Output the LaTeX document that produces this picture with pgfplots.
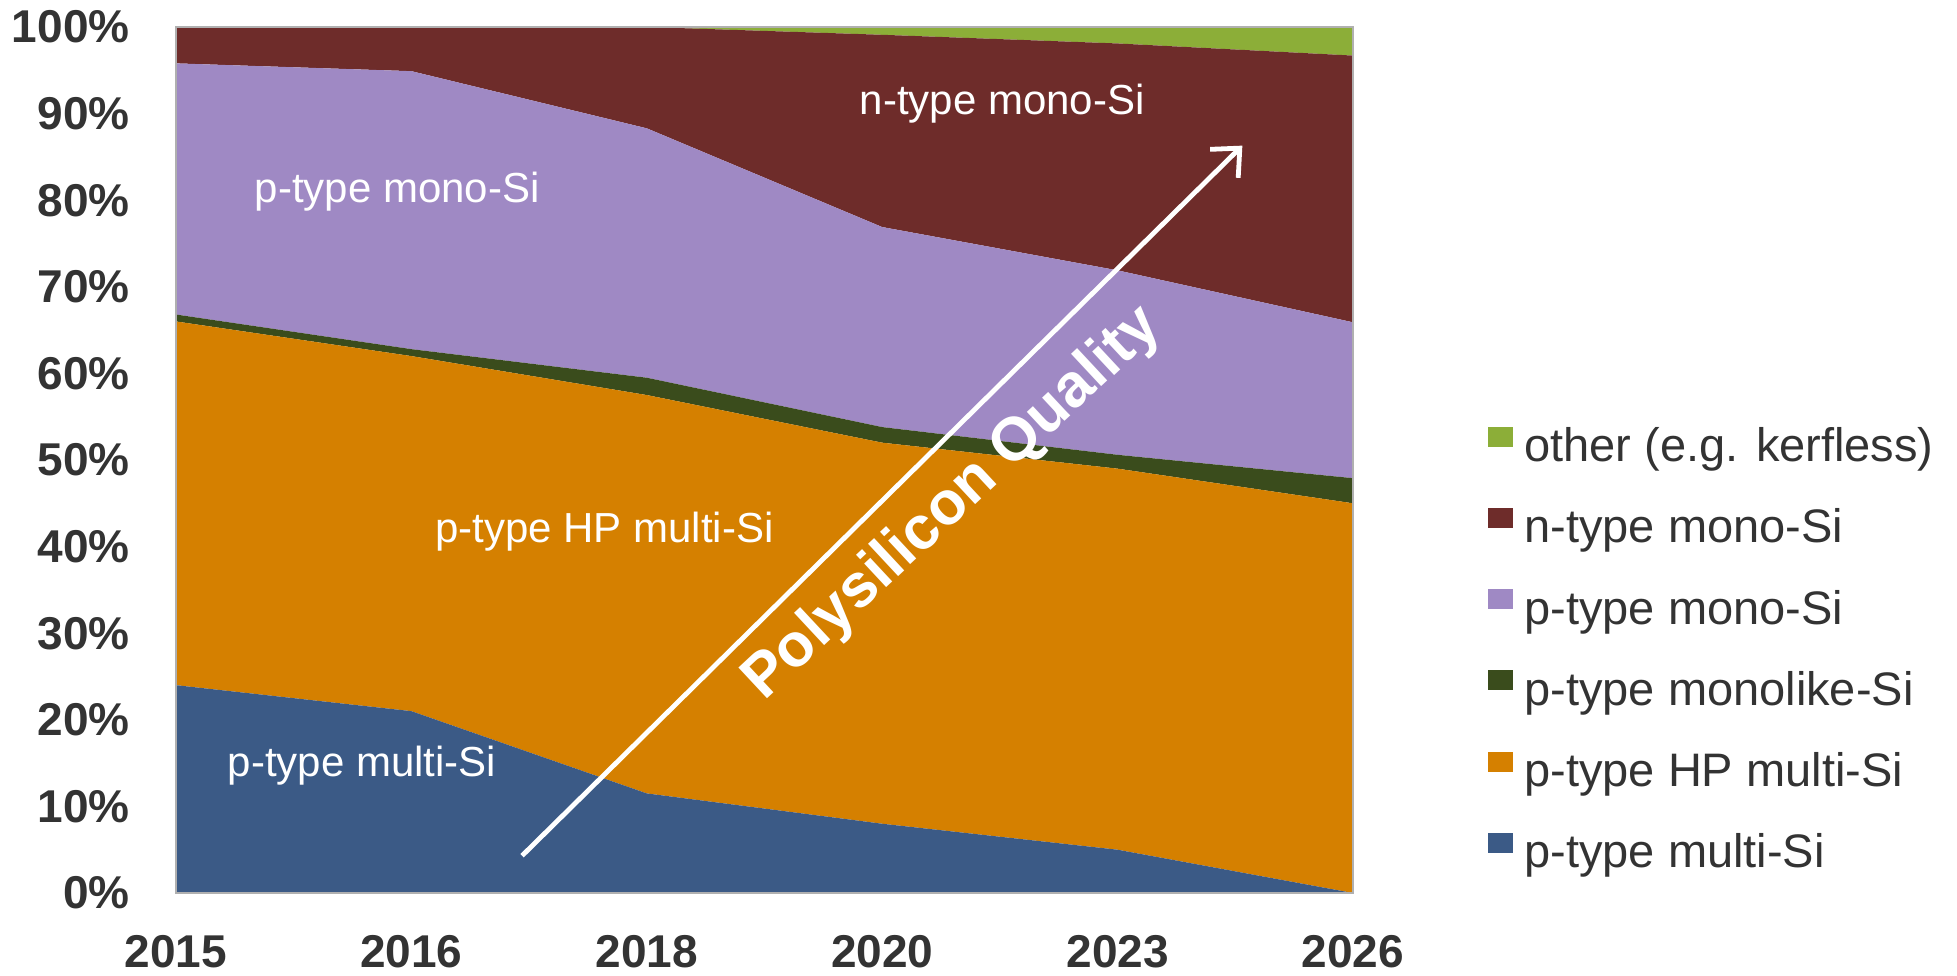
\documentclass[border=0pt]{standalone}
\usepackage{pgfplots}
\pgfplotsset{compat=1.18}
\usepackage{fontspec}
\setmainfont{Liberation Sans}
\usetikzlibrary{arrows.meta}
\definecolor{cblue}{HTML}{3B5A86}
\definecolor{corange}{HTML}{D58000}
\definecolor{cdkgreen}{HTML}{3A4C1C}
\definecolor{cpurple}{HTML}{9F89C4}
\definecolor{cbrown}{HTML}{6E2C2A}
\definecolor{clgreen}{HTML}{8CAE38}
\definecolor{ctext}{HTML}{333333}
\definecolor{caxis}{HTML}{B0B0B0}
\begin{document}
\begin{tikzpicture}
\begin{axis}[
  name=ax,
  scale only axis,
  width=588.5pt, height=433pt,
  xmin=0, xmax=5, ymin=0, ymax=100,
  stack plots=y,
  area style,
  xtick={0,1,2,3,4,5},
  xticklabels={2015,2016,2018,2020,2023,2026},
  ytick={0,10,...,100},
  yticklabel={\pgfmathprintnumber{\tick}\%},
  /pgf/number format/assume math mode=true,
  tick label style={font=\bfseries\fontsize{23}{27}\selectfont, text=ctext, inner sep=0pt},
  yticklabel shift=23pt,
  xticklabel shift=21pt,
  major tick length=0pt,
  axis line style={caxis, line width=1.3pt},
  reverse legend,
  legend style={
    at={(1.1147,0.278)}, anchor=west,
    draw=none, fill=none, inner sep=0pt,
    font=\fontsize{23.5}{27}\selectfont, text=ctext,
    nodes={inner sep=0pt, text height=17pt, text depth=5pt},
    row sep=18.1pt,
    /tikz/every odd column/.append style={column sep=5.5pt},
  },
  legend cell align=left,
  legend image code/.code={\fill[#1] (0pt,1.5pt) rectangle (12.5pt,11.5pt);},
]
\addplot[fill=cblue, draw=none] coordinates {(0,24) (1,21) (2,11.5) (3,8) (4,5) (5,0)} \closedcycle;
\addlegendentry{p-type multi-Si}
\addplot[fill=corange, draw=none] coordinates {(0,42) (1,41) (2,46) (3,44) (4,44) (5,45)} \closedcycle;
\addlegendentry{p-type HP multi-Si}
\addplot[fill=cdkgreen, draw=none] coordinates {(0,0.8) (1,0.8) (2,2.0) (3,1.8) (4,1.6) (5,2.9)} \closedcycle;
\addlegendentry{p-type monolike-Si}
\addplot[fill=cpurple, draw=none] coordinates {(0,29) (1,32.1) (2,28.8) (3,23.1) (4,21.3) (5,18)} \closedcycle;
\addlegendentry{p-type mono-Si}
\addplot[fill=cbrown, draw=none] coordinates {(0,4.2) (1,5.1) (2,11.7) (3,22.2) (4,26.2) (5,30.8)} \closedcycle;
\addlegendentry{n-type mono-Si}
\addplot[fill=clgreen, draw=none] coordinates {(0,0) (1,0) (2,0) (3,0.9) (4,1.9) (5,3.3)} \closedcycle;
\addlegendentry{other (e.g. kerfless)}

\coordinate (lpmono) at (axis cs:0.94,81);
\coordinate (lnmono) at (axis cs:3.51,91.1);
\coordinate (lhp) at (axis cs:1.82,41.7);
\coordinate (lmulti) at (axis cs:0.79,14.7);
\coordinate (arA) at (axis cs:1.47,4.3);
\coordinate (arB) at (axis cs:4.53,86.3);
\coordinate (lpoly) at (axis cs:3.30,44.9);
\end{axis}
\node[white, font=\fontsize{21}{25}\selectfont] at (lpmono) {p-type mono-Si};
\node[white, font=\fontsize{21}{25}\selectfont] at (lnmono) {n-type mono-Si};
\node[white, font=\fontsize{21}{25}\selectfont] at (lhp) {p-type HP multi-Si};
\node[white, font=\fontsize{21}{25}\selectfont] at (lmulti) {p-type multi-Si};
\draw[white, line width=2.4pt, -{Straight Barb[length=11pt,width=20pt,line width=2.4pt]}] (arA) -- (arB);
\node[white, rotate=43, font=\bfseries\fontsize{30.5}{34}\selectfont] at (lpoly) {Polysilicon Quality};
\pgfresetboundingbox
\path[use as bounding box] ([xshift=-88pt,yshift=-41pt]ax.south west) rectangle ([xshift=302pt,yshift=13.5pt]ax.north east);
\end{tikzpicture}
\end{document}
